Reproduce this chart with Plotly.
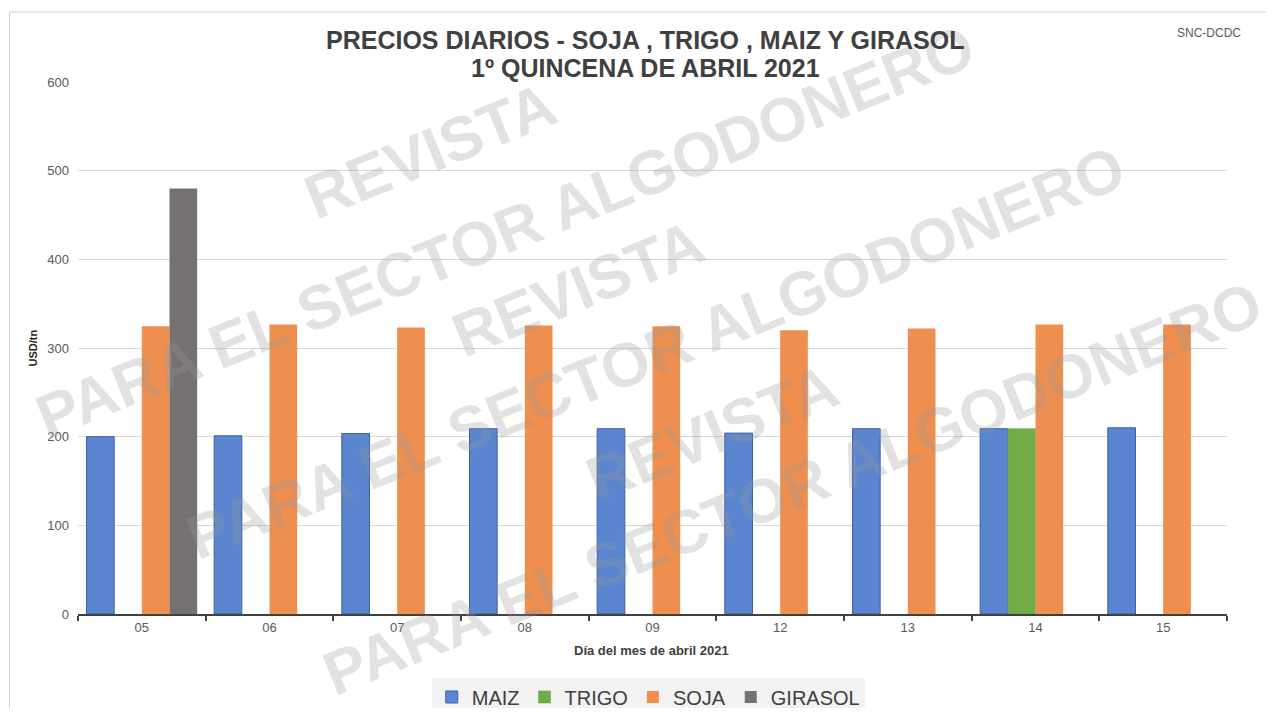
import plotly.graph_objects as go

# datos (USD/tn)
dias = ["05", "06", "07", "08", "09", "12", "13", "14", "15"]
maiz = [200, 201, 203.5, 209, 209, 204, 209, 209, 210]
trigo = [None, None, None, None, None, None, None, 209, None]
soja = [324.5, 326.5, 323, 325.5, 324.5, 320, 322, 326.5, 326.5]
girasol = [480, None, None, None, None, None, None, None, None]

# la página tiene 8px de margen en el body: la figura ocupa 1258x700
OFF = 8
W, H = 1274 - 2 * OFF, 716 - 2 * OFF
# área de trazado (en px de la referencia): x 77.5-1227, y 82-614
L, R, T, B = 77.5 - OFF, (1274 - OFF) - 1227, 82 - OFF, (716 - OFF) - 614
FONT = "Arial, Liberation Sans, sans-serif"


def px(x):
    return (x - OFF - L) / (W - L - R)


def py(y):
    return (H - B - (y - OFF)) / (H - T - B)


fig = go.Figure()
fig.add_trace(go.Bar(name="MAIZ", x=dias, y=maiz, marker=dict(color="#5B85CF", line=dict(color="#3A60A8", width=1))))
fig.add_trace(go.Bar(name="TRIGO", x=dias, y=trigo, marker=dict(color="#70AD47", line=dict(color="#5E9A3A", width=0.5))))
fig.add_trace(go.Bar(name="SOJA", x=dias, y=soja, marker=dict(color="#EE8F4F", line=dict(width=0))))
fig.add_trace(go.Bar(name="GIRASOL", x=dias, y=girasol, marker=dict(color="#767171", line=dict(width=0))))

base = dict(xref="paper", yref="paper", showarrow=False, xanchor="center", yanchor="middle")
anns = []
# marca de agua
wm = dict(textangle=-22, font=dict(family=FONT, size=62, color="rgba(150,150,150,0.28)"), **base)
for (lx, ly), (rx, ry) in [((505, 232), (430, 150)), ((655, 352), (578, 288)), ((792, 488), (712, 432))]:
    anns.append(dict(text="<b>PARA EL SECTOR ALGODONERO</b>", x=px(lx), y=py(ly), **wm))
    anns.append(dict(text="<b>REVISTA</b>", x=px(rx), y=py(ry), **wm))

anns.append(dict(text="<b>PRECIOS DIARIOS - SOJA , TRIGO , MAIZ Y GIRASOL</b>", x=px(645), y=py(40),
                 font=dict(family=FONT, size=25, color="#404040"), **base))
anns.append(dict(text="<b>1º QUINCENA DE ABRIL 2021</b>", x=px(645), y=py(68),
                 font=dict(family=FONT, size=25, color="#404040"), **base))
anns.append(dict(text="SNC-DCDC", x=px(1209), y=py(33),
                 font=dict(family=FONT, size=12, color="#595959"), **base))
anns.append(dict(text="<b>USD/tn</b>", x=px(32), y=py(348), textangle=-90,
                 font=dict(family=FONT, size=11, color="#262626"), **base))
anns.append(dict(text="<b>Día del mes de abril 2021</b>", x=px(651), y=py(650),
                 font=dict(family=FONT, size=13, color="#404040"), **base))

fig.update_layout(
    width=W, height=H,
    margin=dict(l=L, r=R, t=T, b=B, autoexpand=False),
    paper_bgcolor="white", plot_bgcolor="white",
    barmode="group", bargap=0.133, bargroupgap=0,
    font=dict(family=FONT, color="#595959"),
    legend=dict(orientation="h", x=px(648), xanchor="center", y=py(697), yanchor="middle",
                bgcolor="#F2F2F2", font=dict(family=FONT, size=20, color="#404040"),
                itemwidth=30, traceorder="normal"),
    annotations=anns,
    shapes=[dict(type="rect", xref="paper", yref="paper", x0=px(9), y0=py(760), x1=px(1320), y1=py(12),
                 line=dict(color="#D0D0D0", width=1), layer="below")],
)
fig.update_xaxes(type="category", tickson="boundaries", ticks="outside", ticklen=5, tickwidth=2,
                 tickcolor="#404040", showline=True, linecolor="#404040", linewidth=2,
                 showgrid=False, tickfont=dict(size=13, color="#595959"), automargin=False)
fig.update_yaxes(range=[0, 600], dtick=100, showgrid=True, gridcolor="#D9D9D9", gridwidth=1,
                 zeroline=False, showline=False, ticks="", ticklabelstandoff=8,
                 tickfont=dict(size=13, color="#595959"), automargin=False)

fig.write_html("out.html")
